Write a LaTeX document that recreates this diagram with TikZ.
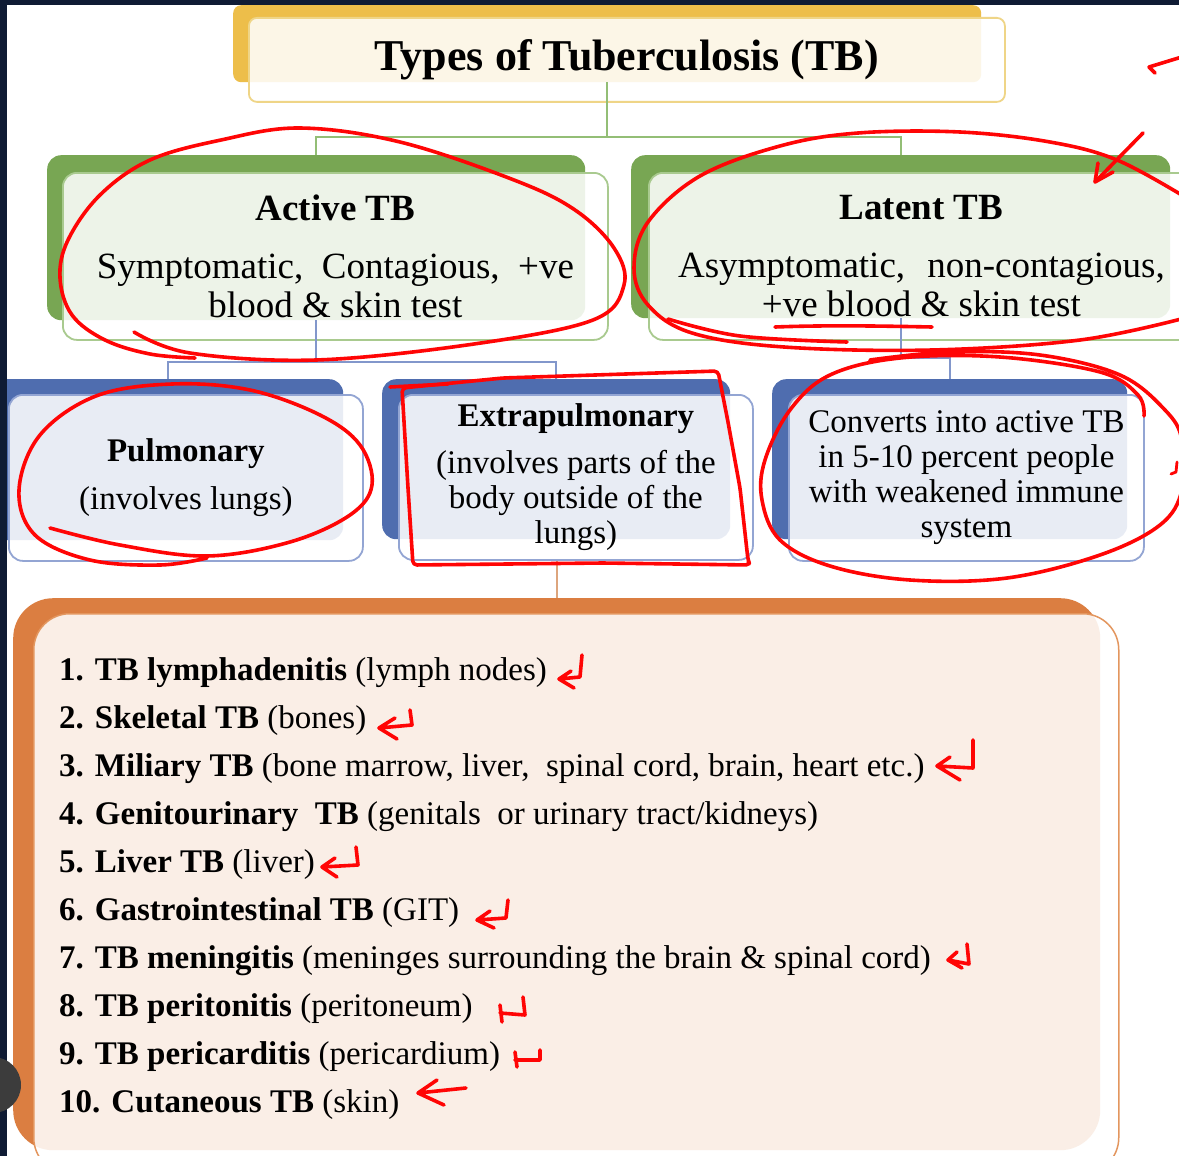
\documentclass[tikz,border=0pt]{standalone}
\usepackage{fontspec}
\setmainfont{Liberation Serif}
\usetikzlibrary{calc}
\definecolor{navybg}{HTML}{0F1B34}
\definecolor{gold}{HTML}{EDBE4A}
\definecolor{goldln}{HTML}{EFD587}
\definecolor{grn}{HTML}{78A653}
\definecolor{grnln}{HTML}{A9CA8F}
\definecolor{grnconn}{HTML}{93BE76}
\definecolor{blu}{HTML}{4F6DAF}
\definecolor{bluln}{HTML}{93A5D3}
\definecolor{bluconn}{HTML}{8297CB}
\definecolor{org}{HTML}{DB7E41}
\definecolor{orgln}{HTML}{E3965E}
\definecolor{orgconn}{HTML}{DDA57D}
\definecolor{inkred}{HTML}{FF0505}
\definecolor{knob}{HTML}{3C3C3C}
\begin{document}
\begin{tikzpicture}[x=1pt,y=-1pt,
  bk/.style={rectangle, inner sep=0pt, anchor=north west, fill=#1},
  fr/.style={rectangle, inner sep=0pt, anchor=north west, align=center, fill=white, fill opacity=0.87, text opacity=1, draw=#1, draw opacity=1, line width=1.8pt},
  conn/.style={draw=#1, line width=2pt},
  ink/.style={draw=inkred, line width=3.6pt, line cap=round, line join=round},
  hd/.style={font=\fontsize{37}{39}\selectfont},
  bl/.style={font=\fontsize{33}{35}\selectfont},
  li/.style={anchor=base west, inner sep=0pt, font=\fontsize{33}{40}\selectfont}]
\useasboundingbox (0,0) rectangle (1179,1156);
\clip (0,0) rectangle (1179,1156);
\fill[white] (0,0) rectangle (1179,1156);

% title
\node[bk=gold, rounded corners=8pt, minimum width=748pt, minimum height=77pt] (tback) at (233,5) {};
\node[fr=goldln, rounded corners=8pt, minimum width=756pt, minimum height=84pt, font=\fontsize{44}{48}\selectfont\bfseries] (title) at (248,17) {Types of Tuberculosis (TB)};

% active / latent
\node[bk=grn, rounded corners=14pt, minimum width=538pt, minimum height=165pt] (aback) at (47,155) {};
\node[fr=grnln, rounded corners=14pt, minimum width=545pt, minimum height=167pt, hd] (active) at (62,172)
  {\textbf{Active TB}\\[19pt]Symptomatic,\hspace{0.5em}Contagious,\hspace{0.5em}+ve\\blood \& skin test};
\node[bk=grn, rounded corners=14pt, minimum width=539pt, minimum height=163pt] (lback) at (631,155) {};
\node[fr=grnln, rounded corners=14pt, minimum width=545pt, minimum height=167pt, hd] (latent) at (648,172)
  {\textbf{Latent TB}\\[19pt]Asymptomatic,\hspace{0.6em}non-contagious,\\+ve blood \& skin test};

% blue boxes
\node[bk=blu, rounded corners=14pt, minimum width=351pt, minimum height=161pt] (pback) at (-8,379) {};
\node[fr=bluln, rounded corners=14pt, minimum width=354pt, minimum height=166pt, bl] (pulm) at (8,394)
  {\textbf{Pulmonary}\\[13pt](involves lungs)};
\node[bk=blu, rounded corners=14pt, minimum width=348pt, minimum height=160pt] (eback) at (382,379) {};
\node[fr=bluln, rounded corners=14pt, minimum width=354pt, minimum height=165pt, bl] (extra) at (398,394)
  {\textbf{Extrapulmonary}\\[12pt](involves parts of the\\body outside of the\\lungs)};
\node[bk=blu, rounded corners=14pt, minimum width=355pt, minimum height=160pt] (cback) at (772,379) {};
\node[fr=bluln, rounded corners=14pt, minimum width=355pt, minimum height=166pt, bl] (conv) at (788,394)
  {Converts into active TB\\in 5-10 percent people\\with weakened immune\\system};

% orange box
\node[bk=org, rounded corners=40pt, minimum width=1087pt, minimum height=552pt] (oback) at (13,598) {};
\node[fr=orgln, rounded corners=36pt, minimum width=1085pt, minimum height=560pt, line width=1.5pt] (ofront) at (33,613) {};

% connectors
\draw[conn=grnconn] (tback.south) -- ++(0,55) coordinate (gj) -| (aback.north);
\draw[conn=grnconn] (gj) -| (lback.north);
\draw[conn=bluconn] (aback.south) -- ++(0,42) coordinate (bj) -| (pback.north);
\draw[conn=bluconn] (bj) -| (eback.north);
\draw[conn=bluconn] (lback.south) -- ++(0,40) -| (cback.north);
\draw[conn=orgconn] (oback.north |- extra.south) -- (oback.north);

% list
\node[li] (l1) at (59,680) {\textbf{1. TB lymphadenitis} (lymph nodes)};
\node[li] (l2) at (59,728) {\textbf{2. Skeletal TB} (bones)};
\node[li] (l3) at (59,776) {\textbf{3. Miliary TB} (bone marrow, liver,\ \ spinal cord, brain, heart etc.)};
\node[li] (l4) at (59,824) {\textbf{4. Genitourinary\ \ TB} (genitals\ \ or urinary tract/kidneys)};
\node[li] (l5) at (59,872) {\textbf{5. Liver TB} (liver)};
\node[li] (l6) at (59,920) {\textbf{6. Gastrointestinal TB} (GIT)};
\node[li] (l7) at (59,968) {\textbf{7. TB meningitis} (meninges surrounding the brain \& spinal cord)};
\node[li] (l8) at (59,1016) {\textbf{8. TB peritonitis} (peritoneum)};
\node[li] (l9) at (59,1064) {\textbf{9. TB pericarditis} (pericardium)};
\node[li] (l10) at (59,1112) {\textbf{10. Cutaneous TB} (skin)};

% red ink annotations
\draw[ink] (1185,56) -- (1149,67) -- (1155,73);
\draw[ink] (1143,133) -- (1097,180);
\draw[ink] (1098,163) -- (1095,182) -- (1113,172);
\draw[ink] plot[smooth, tension=0.6] coordinates {(134,332) (190,353) (316,360) (474,344) (593,320) (624,285) (614,248) (575,210) (514,180) (400,142) (300,128) (221,140) (150,160) (100,195) (68,240) (60,278) (72,315) (105,340) (150,354) (195,358)};
\draw[ink] plot[smooth, tension=0.6] coordinates {(1185,318) (1080,340) (932,350) (784,347) (692,333) (648,305) (634,268) (648,222) (700,176) (780,146) (858,133) (960,132) (1050,142) (1117,160) (1185,197)};
\draw[ink] plot[smooth, tension=0.6] coordinates {(668,319) (740,336) (847,342)};
\draw[ink] (775,327) .. controls (830,325) and (880,326) .. (932,327);
\draw[ink] plot[smooth, tension=0.6] coordinates {(50,528) (120,545) (207,556) (290,542) (350,515) (372,485) (360,445) (320,415) (250,390) (172,384) (96,396) (40,435) (19,490) (35,535) (90,560) (160,565) (207,558)};
\draw[ink] (390,387) -- (448,384);
\draw[ink, rounded corners=4pt] (402,388) -- (503,378) -- (718,371) -- (728,422) -- (740,488) -- (748,560) -- (750,565) -- (603,563) -- (413,565) -- (408,488) -- cycle;
\draw[ink] plot[smooth, tension=0.6] coordinates {(1144,416) (1138,395) (1100,372) (1000,357) (900,358) (830,375) (790,410) (765,460) (762,500) (780,540) (830,566) (910,580) (1007,578) (1100,555) (1160,525) (1182,490) (1182,440) (1165,410) (1120,375) (1040,355) (950,352) (870,360)};
\draw[ink, line width=2.8pt] (1177,462) -- (1176,472) -- (1171,474);
% return arrows
\draw[ink] (582,655) -- (580,677) -- (559,679) (571,671) -- (559,679) -- (574,688);
\draw[ink] (410,710) -- (412,725) -- (379,728) (395,718) -- (379,728) -- (397,739);
\draw[ink] (973,740) -- (973,768) -- (937,766) (950,757) -- (937,766) -- (960,780);
\draw[ink] (356,847) -- (358,865) -- (322,867) (335,858) -- (322,867) -- (337,877);
\draw[ink] (508,900) -- (506,918) -- (477,920) (490,911) -- (477,920) -- (494,928);
\draw[ink] (967,944) -- (969,964) -- (948,960) (957,952) -- (948,960) -- (962,968);
\draw[ink] (523,997) -- (525,1015) -- (500,1013) (500,1005) -- (502,1022);
\draw[ink] (540,1050) -- (540,1060) -- (515,1060) (515,1052) -- (517,1067);
\draw[ink] (466,1088) -- (418,1093) (437,1080) -- (418,1093) -- (444,1105);

% screen frame
\fill[navybg] (0,0) rectangle (1179,5);
\fill[navybg] (0,0) rectangle (7,1156);
\fill[knob] (-7,1085) circle (28pt);
\end{tikzpicture}
\end{document}
